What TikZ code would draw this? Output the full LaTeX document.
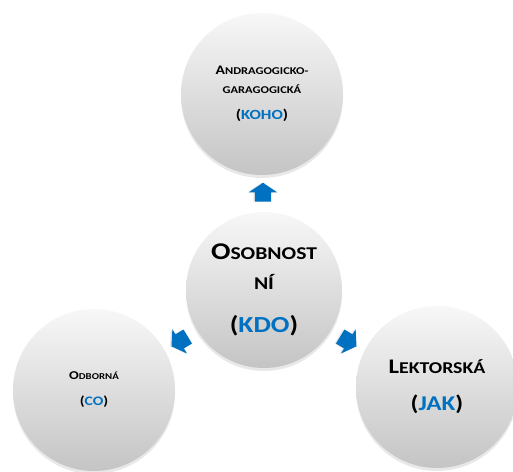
\documentclass[tikz,border=0pt]{standalone}
\usepackage{fontspec}
\setmainfont{Carlito}[FakeStretch=1.2]
\usetikzlibrary{positioning,shapes.arrows,shadows}
\definecolor{modra}{HTML}{0070C0}
% kapitalky: velke pismeno + zbytek mensi
\newcommand{\kap}[4]{{\fontsize{#1}{#1}\selectfont #3}{\fontsize{#2}{#2}\selectfont #4}}

\begin{document}
\begin{tikzpicture}[x=1pt, y=1pt,
    kruh/.style={circle, minimum size=162pt, inner sep=0pt, align=center,
        top color=gray!6, bottom color=gray!46,
        drop shadow={shadow xshift=0pt, shadow yshift=-3pt, opacity=0.18}},
    sipka/.style={single arrow, fill=modra, inner sep=0pt, inner ysep=8pt,
        minimum height=19pt, single arrow head extend=6pt,
        single arrow tip angle=112,
        drop shadow={shadow xshift=-1.5pt, shadow yshift=0pt, opacity=0.2}}
]
\useasboundingbox (-264,-181) rectangle (249,290);

% Kruhy
\node[kruh, minimum size=156pt, font=\bfseries\fontsize{18}{30}\selectfont] (kdo) at (0,0)
    {\kap{24}{18}{O}{SOBNOST}\\ NÍ\\[13pt]{\fontsize{23}{23}\selectfont(\textcolor{modra}{KDO})}};
\node[kruh, font=\bfseries\fontsize{10.4}{19}\selectfont] (koho) at (-2,196)
    {\kap{13}{10.4}{A}{NDRAGOGICKO-}\\ GARAGOGICKÁ\\[7pt]{\fontsize{14}{14}\selectfont(\textcolor{modra}{KOHO})}};
\node[kruh, font=\bfseries\fontsize{9}{26}\selectfont] (co) at (-170,-100)
    {\kap{12}{9}{O}{DBORNÁ}\\{\fontsize{13}{13}\selectfont(\textcolor{modra}{CO})}};
\node[kruh, font=\bfseries\fontsize{16.5}{37}\selectfont] (jak) at (173,-97)
    {\kap{20.7}{16.5}{L}{EKTORSKÁ}\\{\fontsize{21}{21}\selectfont(\textcolor{modra}{JAK})}};

% Sipky
\node[sipka, rotate=90] (skoho) at (-1,95) {};
\node[sipka, rotate=211] (sco) at (-82,-50) {};
\node[sipka, rotate=-31] (sjak) at (82,-50) {};
\end{tikzpicture}
\end{document}
